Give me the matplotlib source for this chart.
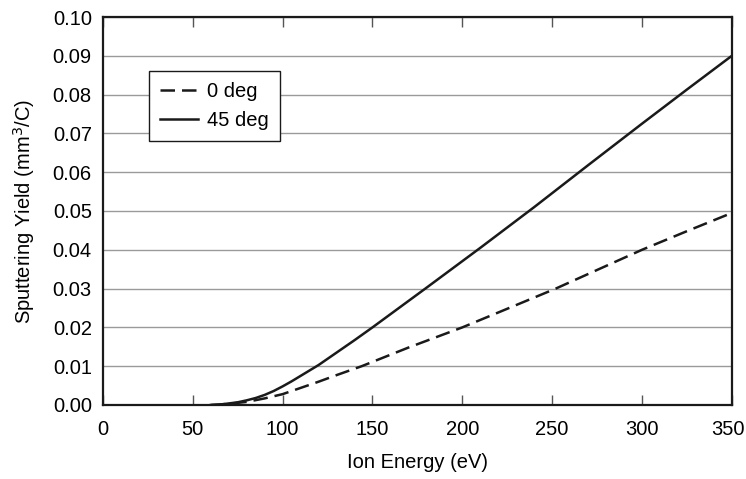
import numpy as np
import matplotlib
matplotlib.use('Agg')
import matplotlib.pyplot as plt
import matplotlib.transforms as mtransforms

plt.rcParams['font.family'] = ['Liberation Sans', 'DejaVu Sans']
plt.rcParams['font.size'] = 14.5

# ion energy (eV) vs sputtering yield (mm^3/C)
energy_0 = [60, 70, 80, 90, 100, 110, 120, 130, 144, 170, 200, 225, 252, 275, 300, 325, 350]
yield_0 = [0.0, 0.0003, 0.0008, 0.0017, 0.0028, 0.0044, 0.0060, 0.0077, 0.0100,
           0.0148, 0.0200, 0.0248, 0.0300, 0.0348, 0.0400, 0.0448, 0.0495]

energy_45 = [60, 65, 70, 75, 80, 85, 90, 95, 100, 105, 110, 115, 120, 130, 140, 150,
             180, 210, 240, 270, 300, 325, 350]
yield_45 = [0.0, 0.0001, 0.0004, 0.0007, 0.0012, 0.0018, 0.0026, 0.0036, 0.0048,
            0.0061, 0.0075, 0.0089, 0.0103, 0.0135, 0.0167, 0.0200,
            0.0302, 0.0405, 0.0510, 0.0618, 0.0725, 0.0813, 0.0900]

xticks = [0, 50, 100, 150, 200, 250, 300, 350]
yticks = np.arange(0, 0.1001, 0.01)

fig = plt.figure(figsize=(7.46, 4.79), dpi=100)
ax = fig.add_axes([0.138, 0.1545, 0.843, 0.81])

ax.plot(energy_0, yield_0, color='#1a1a1a', lw=1.8, dashes=(5.8, 2.8), label='0 deg')
ax.plot(energy_45, yield_45, color='#1a1a1a', lw=1.8, label='45 deg')

ax.set_xlim(0, 350)
ax.set_ylim(0, 0.10)
ax.set_xticks(xticks)
ax.set_yticks(yticks)
ax.set_yticklabels(['%.2f' % v for v in yticks])

ax.grid(True, axis='y', color='#9a9a9a', lw=1.0)
ax.set_axisbelow(True)
ax.tick_params(axis='x', which='major', direction='in', length=7.5, width=1.0,
               color='#555555', top=True, pad=11)
ax.tick_params(axis='y', which='major', direction='in', length=0, pad=8)
for s in ax.spines.values():
    s.set_linewidth(1.6)
    s.set_color('#1a1a1a')

# keep the last x label inside the figure edge
last = ax.get_xticklabels()[-1]
last.set_transform(last.get_transform() +
                   mtransforms.ScaledTranslation(-4 / 100, 0, fig.dpi_scale_trans))

ax.set_xlabel('Ion Energy (eV)', labelpad=10)
ax.set_ylabel('Sputtering Yield (mm$^3$/C)', labelpad=11)

leg = ax.legend(loc='upper left', bbox_to_anchor=(0.073, 0.862), borderaxespad=0,
                fancybox=False, framealpha=1, edgecolor='#1a1a1a', handlelength=1.9,
                handletextpad=0.45, borderpad=0.55, labelspacing=0.5)
leg.get_frame().set_linewidth(1.0)

plt.savefig('out.png', dpi=100)
